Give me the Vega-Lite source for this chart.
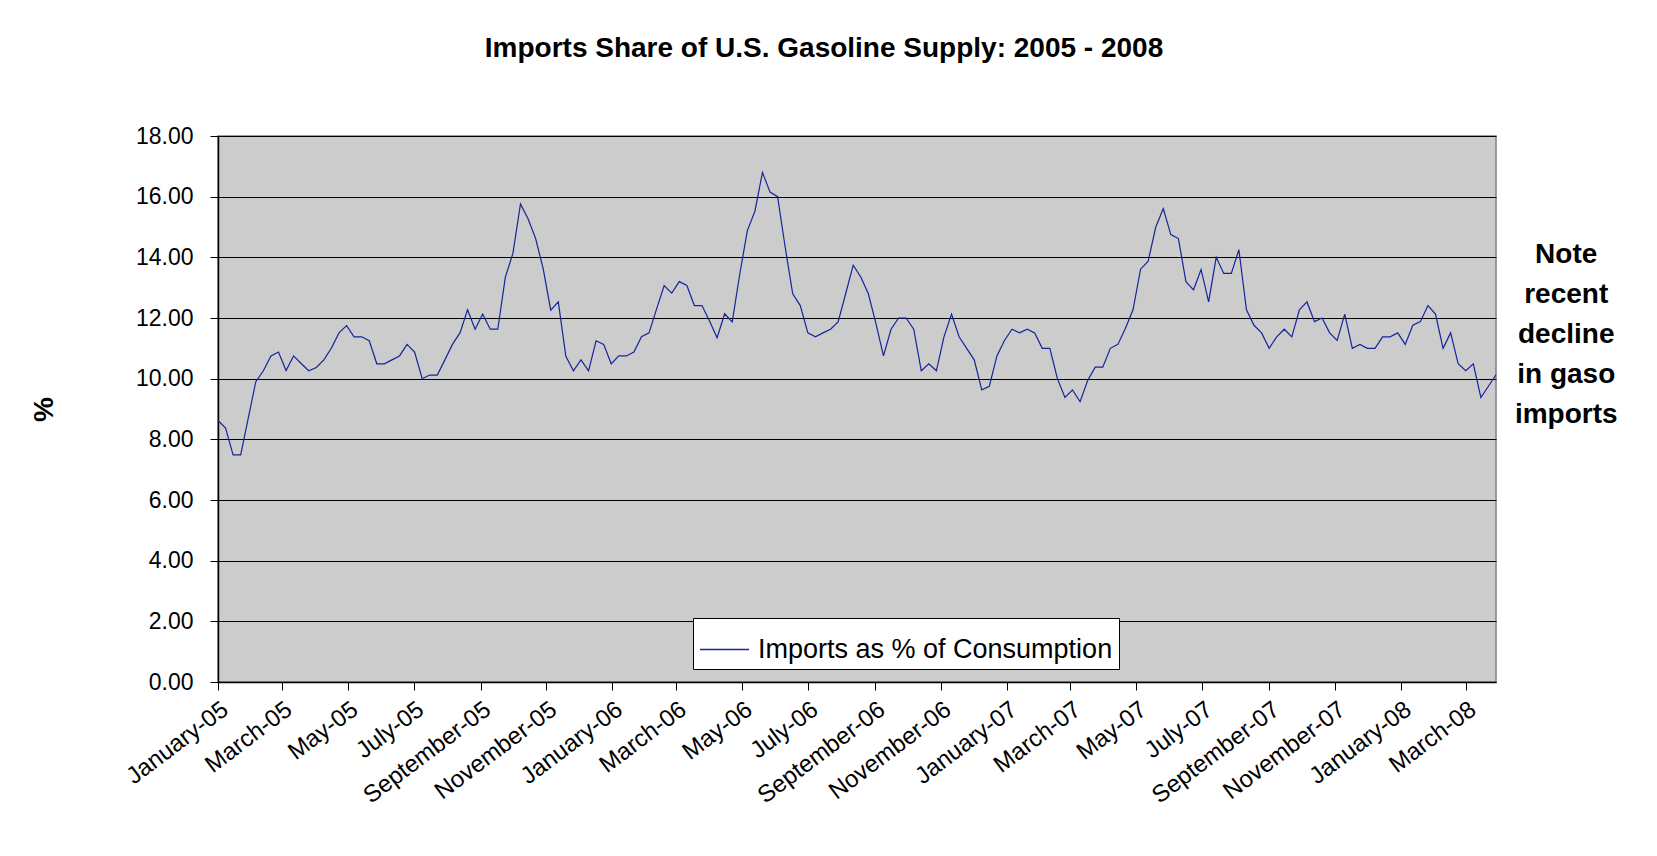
{
  "$schema": "https://vega.github.io/schema/vega-lite/v6.json",
  "width": 1278,
  "height": 546,
  "autosize": {"type": "none"},
  "padding": {"left": 218, "top": 136, "right": 161, "bottom": 174},
  "background": "white",
  "title": {"text": "Imports Share of U.S. Gasoline Supply: 2005 - 2008", "fontSize": 28, "fontWeight": "bold", "font": "Liberation Sans", "anchor": "middle", "frame": "bounds", "offset": 62, "color": "black"},
  "config": {
    "font": "Liberation Sans",
    "view": {"fill": "#CCCCCC", "stroke": "#808080", "strokeWidth": 1.5},
    "axis": {"labelColor": "black", "titleColor": "black", "domainColor": "black", "tickColor": "black", "gridColor": "black", "labelFont": "Liberation Sans", "titleFont": "Liberation Sans"},
    "legend": {"labelFont": "Liberation Sans", "labelColor": "black"}
  },
  "layer": [
    {
      "data": {
        "format": {"parse": {"d": "date:'%Y-%m-%d'"}},
        "values": [
          {"d": "2005-01-07", "v": 8.62}, {"d": "2005-01-14", "v": 8.37}, {"d": "2005-01-21", "v": 7.49}, {"d": "2005-01-28", "v": 7.49},
          {"d": "2005-02-04", "v": 8.70}, {"d": "2005-02-11", "v": 9.90}, {"d": "2005-02-18", "v": 10.26}, {"d": "2005-02-25", "v": 10.75},
          {"d": "2005-03-04", "v": 10.88}, {"d": "2005-03-11", "v": 10.27}, {"d": "2005-03-18", "v": 10.75}, {"d": "2005-03-25", "v": 10.50},
          {"d": "2005-04-01", "v": 10.26}, {"d": "2005-04-08", "v": 10.37}, {"d": "2005-04-15", "v": 10.62}, {"d": "2005-04-22", "v": 11.01},
          {"d": "2005-04-29", "v": 11.51}, {"d": "2005-05-06", "v": 11.75}, {"d": "2005-05-13", "v": 11.38}, {"d": "2005-05-20", "v": 11.38},
          {"d": "2005-05-27", "v": 11.25}, {"d": "2005-06-03", "v": 10.49}, {"d": "2005-06-10", "v": 10.49}, {"d": "2005-06-17", "v": 10.62},
          {"d": "2005-06-24", "v": 10.75}, {"d": "2005-07-01", "v": 11.13}, {"d": "2005-07-08", "v": 10.88}, {"d": "2005-07-15", "v": 10.00},
          {"d": "2005-07-22", "v": 10.12}, {"d": "2005-07-29", "v": 10.12}, {"d": "2005-08-05", "v": 10.62}, {"d": "2005-08-12", "v": 11.13},
          {"d": "2005-08-19", "v": 11.51}, {"d": "2005-08-26", "v": 12.27}, {"d": "2005-09-02", "v": 11.63}, {"d": "2005-09-09", "v": 12.13},
          {"d": "2005-09-16", "v": 11.63}, {"d": "2005-09-23", "v": 11.63}, {"d": "2005-09-30", "v": 13.35}, {"d": "2005-10-07", "v": 14.13},
          {"d": "2005-10-14", "v": 15.76}, {"d": "2005-10-21", "v": 15.27}, {"d": "2005-10-28", "v": 14.62}, {"d": "2005-11-04", "v": 13.63},
          {"d": "2005-11-11", "v": 12.26}, {"d": "2005-11-18", "v": 12.53}, {"d": "2005-11-25", "v": 10.74}, {"d": "2005-12-02", "v": 10.26},
          {"d": "2005-12-09", "v": 10.62}, {"d": "2005-12-16", "v": 10.26}, {"d": "2005-12-23", "v": 11.25}, {"d": "2005-12-30", "v": 11.13},
          {"d": "2006-01-06", "v": 10.49}, {"d": "2006-01-13", "v": 10.75}, {"d": "2006-01-20", "v": 10.75}, {"d": "2006-01-27", "v": 10.88},
          {"d": "2006-02-03", "v": 11.38}, {"d": "2006-02-10", "v": 11.51}, {"d": "2006-02-17", "v": 12.30}, {"d": "2006-02-24", "v": 13.07},
          {"d": "2006-03-03", "v": 12.82}, {"d": "2006-03-10", "v": 13.20}, {"d": "2006-03-17", "v": 13.07}, {"d": "2006-03-24", "v": 12.41},
          {"d": "2006-03-31", "v": 12.41}, {"d": "2006-04-07", "v": 11.90}, {"d": "2006-04-14", "v": 11.35}, {"d": "2006-04-21", "v": 12.14},
          {"d": "2006-04-28", "v": 11.87}, {"d": "2006-05-05", "v": 13.45}, {"d": "2006-05-12", "v": 14.88}, {"d": "2006-05-19", "v": 15.52},
          {"d": "2006-05-26", "v": 16.80}, {"d": "2006-06-02", "v": 16.15}, {"d": "2006-06-09", "v": 16.00}, {"d": "2006-06-16", "v": 14.34},
          {"d": "2006-06-23", "v": 12.80}, {"d": "2006-06-30", "v": 12.41}, {"d": "2006-07-07", "v": 11.51}, {"d": "2006-07-14", "v": 11.38},
          {"d": "2006-07-21", "v": 11.51}, {"d": "2006-07-28", "v": 11.63}, {"d": "2006-08-04", "v": 11.87}, {"d": "2006-08-11", "v": 12.80},
          {"d": "2006-08-18", "v": 13.74}, {"d": "2006-08-25", "v": 13.35}, {"d": "2006-09-01", "v": 12.80}, {"d": "2006-09-08", "v": 11.82},
          {"d": "2006-09-15", "v": 10.75}, {"d": "2006-09-22", "v": 11.63}, {"d": "2006-09-29", "v": 12.00}, {"d": "2006-10-06", "v": 12.00},
          {"d": "2006-10-13", "v": 11.63}, {"d": "2006-10-20", "v": 10.26}, {"d": "2006-10-27", "v": 10.49}, {"d": "2006-11-03", "v": 10.26},
          {"d": "2006-11-10", "v": 11.38}, {"d": "2006-11-17", "v": 12.13}, {"d": "2006-11-24", "v": 11.38}, {"d": "2006-12-01", "v": 11.00},
          {"d": "2006-12-08", "v": 10.62}, {"d": "2006-12-15", "v": 9.63}, {"d": "2006-12-22", "v": 9.75}, {"d": "2006-12-29", "v": 10.75},
          {"d": "2007-01-05", "v": 11.26}, {"d": "2007-01-12", "v": 11.63}, {"d": "2007-01-19", "v": 11.51}, {"d": "2007-01-26", "v": 11.63},
          {"d": "2007-02-02", "v": 11.51}, {"d": "2007-02-09", "v": 11.00}, {"d": "2007-02-16", "v": 11.00}, {"d": "2007-02-23", "v": 10.00},
          {"d": "2007-03-02", "v": 9.38}, {"d": "2007-03-09", "v": 9.63}, {"d": "2007-03-16", "v": 9.24}, {"d": "2007-03-23", "v": 9.94},
          {"d": "2007-03-30", "v": 10.38}, {"d": "2007-04-06", "v": 10.38}, {"d": "2007-04-13", "v": 11.00}, {"d": "2007-04-20", "v": 11.13},
          {"d": "2007-04-27", "v": 11.66}, {"d": "2007-05-04", "v": 12.27}, {"d": "2007-05-11", "v": 13.61}, {"d": "2007-05-18", "v": 13.87},
          {"d": "2007-05-25", "v": 14.99}, {"d": "2007-06-01", "v": 15.61}, {"d": "2007-06-08", "v": 14.75}, {"d": "2007-06-15", "v": 14.62},
          {"d": "2007-06-22", "v": 13.20}, {"d": "2007-06-29", "v": 12.93}, {"d": "2007-07-06", "v": 13.60}, {"d": "2007-07-13", "v": 12.53},
          {"d": "2007-07-20", "v": 14.00}, {"d": "2007-07-27", "v": 13.47}, {"d": "2007-08-03", "v": 13.47}, {"d": "2007-08-10", "v": 14.25},
          {"d": "2007-08-17", "v": 12.27}, {"d": "2007-08-24", "v": 11.76}, {"d": "2007-08-31", "v": 11.51}, {"d": "2007-09-07", "v": 11.00},
          {"d": "2007-09-14", "v": 11.38}, {"d": "2007-09-21", "v": 11.63}, {"d": "2007-09-28", "v": 11.38}, {"d": "2007-10-05", "v": 12.27},
          {"d": "2007-10-12", "v": 12.53}, {"d": "2007-10-19", "v": 11.88}, {"d": "2007-10-26", "v": 12.00}, {"d": "2007-11-02", "v": 11.51},
          {"d": "2007-11-09", "v": 11.26}, {"d": "2007-11-16", "v": 12.13}, {"d": "2007-11-23", "v": 11.00}, {"d": "2007-11-30", "v": 11.13},
          {"d": "2007-12-07", "v": 11.00}, {"d": "2007-12-14", "v": 11.00}, {"d": "2007-12-21", "v": 11.38}, {"d": "2007-12-28", "v": 11.38},
          {"d": "2008-01-04", "v": 11.51}, {"d": "2008-01-11", "v": 11.13}, {"d": "2008-01-18", "v": 11.76}, {"d": "2008-01-25", "v": 11.88},
          {"d": "2008-02-01", "v": 12.41}, {"d": "2008-02-08", "v": 12.13}, {"d": "2008-02-15", "v": 11.00}, {"d": "2008-02-22", "v": 11.51},
          {"d": "2008-02-29", "v": 10.49}, {"d": "2008-03-07", "v": 10.26}, {"d": "2008-03-14", "v": 10.49}, {"d": "2008-03-21", "v": 9.38},
          {"d": "2008-03-28", "v": 9.75}, {"d": "2008-04-04", "v": 10.13}
        ]
      },
      "mark": {"type": "line", "strokeWidth": 1.2},
      "encoding": {
        "x": {
          "field": "d", "type": "temporal",
          "scale": {"domain": [{"year": 2005, "month": 1, "date": 7}, {"year": 2008, "month": 4, "date": 4}]},
          "axis": {
            "title": null, "format": "%B-%y", "labelAngle": -37, "labelFontSize": 24, "tickSize": 8, "labelPadding": 7,
            "grid": false, "domainWidth": 1.5, "labelOverlap": false, "labelFlush": false, "labelBound": false,
            "values": [
              {"year": 2005, "month": 1, "date": 7}, {"year": 2005, "month": 3, "date": 7}, {"year": 2005, "month": 5, "date": 7},
              {"year": 2005, "month": 7, "date": 7}, {"year": 2005, "month": 9, "date": 7}, {"year": 2005, "month": 11, "date": 7},
              {"year": 2006, "month": 1, "date": 7}, {"year": 2006, "month": 3, "date": 7}, {"year": 2006, "month": 5, "date": 7},
              {"year": 2006, "month": 7, "date": 7}, {"year": 2006, "month": 9, "date": 7}, {"year": 2006, "month": 11, "date": 7},
              {"year": 2007, "month": 1, "date": 7}, {"year": 2007, "month": 3, "date": 7}, {"year": 2007, "month": 5, "date": 7},
              {"year": 2007, "month": 7, "date": 7}, {"year": 2007, "month": 9, "date": 7}, {"year": 2007, "month": 11, "date": 7},
              {"year": 2008, "month": 1, "date": 7}, {"year": 2008, "month": 3, "date": 7}
            ]
          }
        },
        "y": {
          "field": "v", "type": "quantitative",
          "scale": {"domain": [0, 18], "nice": false},
          "axis": {
            "title": "%", "values": [0, 2, 4, 6, 8, 10, 12, 14, 16, 18], "format": ".2f", "labelFontSize": 23,
            "tickSize": 8, "labelPadding": 17, "grid": true, "gridColor": "black", "gridWidth": 1, "domainWidth": 1.5,
            "titleFontSize": 28, "titleFontWeight": "bold", "titlePadding": 77
          }
        },
        "color": {
          "datum": "Imports as % of Consumption", "type": "nominal",
          "scale": {"range": ["#15259A"]},
          "legend": {
            "title": null, "orient": "none", "legendX": 475, "legendY": 482, "fillColor": "white", "strokeColor": "black",
            "padding": 6, "labelFontSize": 27, "labelOffset": 8, "labelLimit": 0, "symbolType": "stroke", "symbolSize": 2400, "symbolStrokeWidth": 1.3
          }
        }
      }
    },
    {
      "data": {
        "format": {"parse": {"d": "date:'%Y-%m-%d'"}},
        "values": [{"d": "2008-06-08", "v": 13.82, "t": "Note\nrecent\ndecline\nin gaso\nimports"}]
      },
      "mark": {"type": "text", "font": "Liberation Sans", "fontSize": 28, "fontWeight": "bold", "lineHeight": 40, "lineBreak": "\n", "align": "center", "baseline": "alphabetic", "color": "black"},
      "encoding": {
        "x": {"field": "d", "type": "temporal"},
        "y": {"field": "v", "type": "quantitative"},
        "text": {"field": "t", "type": "nominal"}
      }
    }
  ]
}
